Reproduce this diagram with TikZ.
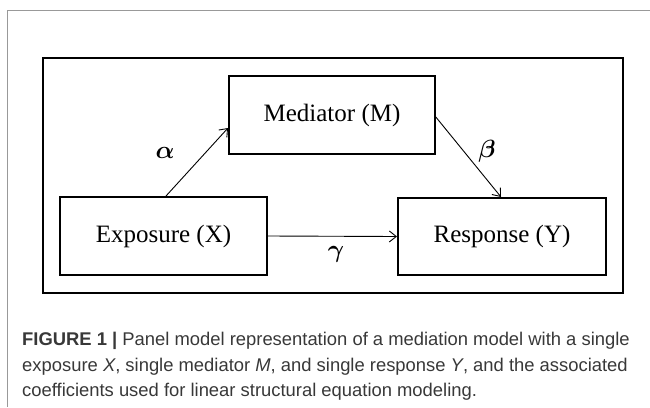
\documentclass[tikz,border=0pt]{standalone}
\usepackage{fontspec}
\setmainfont{Liberation Serif}
\newfontfamily\capfont{Liberation Sans}
\usetikzlibrary{arrows.meta}
\begin{document}
\begin{tikzpicture}[x=1pt,y=-1pt,
  box/.style={draw,line width=2pt,inner sep=0pt,font=\fontsize{25}{30}\selectfont},
  conn/.style={line width=0.9pt,-{Straight Barb[length=7pt,width=11pt,line width=0.9pt]}},
  coef/.style={font=\fontsize{24}{28}\selectfont\boldmath},
  frame/.style={draw=black!40,line width=1pt}]
\useasboundingbox (0,0) rectangle (650,407);
\draw[frame] (650,10) -- (7,10) -- (7,407);
\draw[line width=2.2pt] (43,58) rectangle (623,293);
\node[box,minimum width=206pt,minimum height=78pt] (m) at (332,115) {Mediator (M)};
\node[box,minimum width=207pt,minimum height=78pt] (x) at (163.5,236) {Exposure (X)};
\node[box,minimum width=208pt,minimum height=77pt] (y) at (502,236.5) {Response (Y)};
\coordinate (xa) at (166,196);
\coordinate (ma) at (228,128);
\coordinate (mb) at (435,116);
\coordinate (yb) at (501,197);
\draw[conn] (xa) -- (ma);
\draw[conn] (mb) -- (yb);
\draw[conn] (x.east) -- (y.west);
\node[coef] (a) at (165,153) {$\alpha$};
\node[coef] (b) at (487,151) {$\beta$};
\node[coef] (g) at (336,254) {$\gamma$};
\node[anchor=north west,inner sep=0pt,align=left,text=black!78,
  font=\capfont\fontsize{18.4}{25.5}\selectfont] (cap) at (22,332)
  {\textbf{FIGURE 1 |} Panel model representation of a mediation model with a single\\
   exposure \textit{X}, single mediator \textit{M}, and single response \textit{Y}, and the associated\\
   coefficients used for linear structural equation modeling.};
\end{tikzpicture}
\end{document}
